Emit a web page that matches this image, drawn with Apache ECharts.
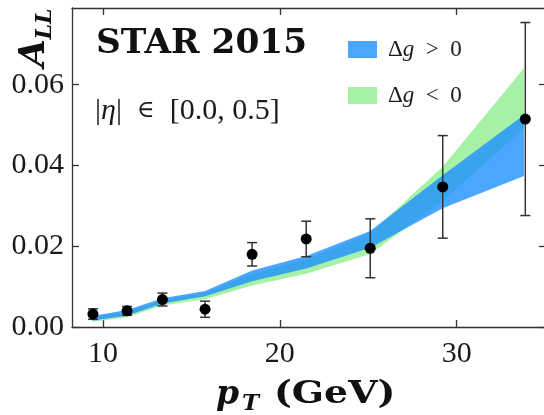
<!DOCTYPE html>
<html><head><meta charset="utf-8">
<script src="https://cdn.jsdelivr.net/npm/echarts@6/dist/echarts.min.js"></script>
<style>html,body{margin:0;padding:0;background:#fff}#c{width:544px;height:415px}</style>
</head><body><div id="c"></div>
<script>
// data points (STAR 2015, |eta| in [0,0.5])
const ptX   = [9.43, 11.36, 13.36, 15.77, 18.43, 21.49, 25.11, 29.21, 33.88];
const ptY   = [0.0032, 0.0040, 0.0068, 0.0044, 0.0180, 0.0218, 0.0195, 0.0347, 0.0515];
const ptErr = [0.0013, 0.0011, 0.0016, 0.0020, 0.0029, 0.0044, 0.0073, 0.0127, 0.0239];
// theory bands
const bandX   = [9.40, 11.36, 13.36, 15.77, 18.43, 21.49, 25.11, 29.21, 33.80];
const blueLo  = [0.0016, 0.0028, 0.0058, 0.0076, 0.0113, 0.0145, 0.0196, 0.0294, 0.0374];
const blueHi  = [0.0027, 0.0042, 0.0071, 0.0089, 0.0140, 0.0176, 0.0238, 0.0376, 0.0525];
const greenLo = [0.0013, 0.0024, 0.0053, 0.0069, 0.0103, 0.0132, 0.0181, 0.0312, 0.0492];
const greenHi = [0.0024, 0.0038, 0.0067, 0.0085, 0.0132, 0.0168, 0.0232, 0.0397, 0.0641];
// ticks
const xTicks = [10, 20, 30];
const yTicks = [0, 0.02, 0.04, 0.06];
const legendNames = ['Δg > 0', 'Δg < 0'];

const BLUE = 'rgba(30,144,255,0.8)';
const GREEN = 'rgba(144,238,144,0.8)';
const AX = '#333';
const serif = 'Liberation Serif';

function band(name, lo, hi, color, z) {
  return {
    type: 'custom', name: name, z: z,
    itemStyle: { color: color },
    data: bandX.map((x, i) => [x, lo[i], hi[i]]),
    encode: { x: 0, y: [1, 2] },
    renderItem: function (params, api) {
      if (params.dataIndex !== 0) return null;
      const up = [], dn = [];
      for (let i = 0; i < bandX.length; i++) {
        up.push(api.coord([bandX[i], hi[i]]));
        dn.push(api.coord([bandX[i], lo[i]]));
      }
      return { type: 'polygon', shape: { points: up.concat(dn.reverse()) }, style: { fill: color } };
    }
  };
}

function axisCommon(extra) {
  return Object.assign({
    type: 'value', splitLine: { show: false },
    axisLine: { show: true, onZero: false, lineStyle: { color: AX, width: 1.3 } },
    axisTick: { show: true, inside: true, length: 7, lineStyle: { color: AX, width: 1.3 } }
  }, extra);
}

const chart = echarts.init(document.getElementById('c'), null, { renderer: 'canvas' });
chart.setOption({
  animation: false,
  backgroundColor: '#fff',
  grid: { left: 72, top: 8, right: -2, bottom: 88, containLabel: false, outerBoundsMode: 'none' },
  xAxis: [
    axisCommon({ min: 8.245, max: 35.05, position: 'bottom',
      axisTick: { show: true, inside: true, length: 7, customValues: xTicks, lineStyle: { color: AX, width: 1.3 } },
      axisLabel: { customValues: xTicks, margin: 12, fontFamily: serif, fontSize: 30, color: '#1a1a1a' } }),
    axisCommon({ min: 8.245, max: 35.05, position: 'top',
      axisTick: { show: true, inside: true, length: 7, customValues: xTicks, lineStyle: { color: AX, width: 1.3 } },
      axisLabel: { show: false } })
  ],
  yAxis: [
    axisCommon({ min: 0, max: 0.079, position: 'left',
      axisTick: { show: true, inside: true, length: 7, customValues: yTicks, lineStyle: { color: AX, width: 1.3 } },
      axisLabel: { customValues: yTicks, margin: 8, fontFamily: serif, fontSize: 30, color: '#1a1a1a',
        formatter: v => v.toFixed(2) } }),
    axisCommon({ min: 0, max: 0.079, position: 'right',
      axisTick: { show: true, inside: true, length: 7, customValues: yTicks, lineStyle: { color: AX, width: 1.3 } },
      axisLabel: { show: false } })
  ],
  legend: {
    left: 348, top: 38, padding: 0, orient: 'vertical', itemWidth: 29, itemHeight: 17, itemGap: 23,
    selectedMode: false,
    data: legendNames.map(n => ({ name: n, icon: 'rect' })),
    formatter: function (n) { return '{t|Δ}{i|g}{t|\u2002' + n.slice(3, 4) + '\u20020}'; },
    textStyle: {
      padding: [0, 0, 0, 6],
      rich: {
        t: { fontFamily: serif, fontSize: 23, color: '#1a1a1a' },
        i: { fontFamily: serif, fontSize: 23, fontStyle: 'italic', color: '#1a1a1a' }
      }
    }
  },
  graphic: [
    { type: 'text', x: 96, y: 44, scaleX: 1.04, style: { text: 'STAR 2015', fontFamily: 'DejaVu Serif', fontWeight: 'bold', fontSize: 33, fill: '#111', verticalAlign: 'middle' } },
    { type: 'text', x: 95, y: 111, style: {
      text: '{r||}{i|η}{r||\u2002}{e|∈}{r|\u2002[0.0, 0.5]}', verticalAlign: 'middle',
      rich: { r: { fontFamily: serif, fontSize: 30, fill: '#1a1a1a' },
              e: { fontFamily: 'DejaVu Serif', fontSize: 24, fill: '#1a1a1a' },
              i: { fontFamily: serif, fontSize: 30, fontStyle: 'italic', fill: '#1a1a1a' } } } },
    { type: 'text', x: 35, y: 53, rotation: Math.PI / 2, style: { text: 'A', fontFamily: 'DejaVu Serif', fontWeight: 'bold', fontStyle: 'italic', fontSize: 36, fill: '#111', align: 'center', verticalAlign: 'middle' } },
    { type: 'text', x: 45, y: 24, rotation: Math.PI / 2, style: { text: 'LL', fontFamily: 'DejaVu Serif', fontWeight: 'bold', fontStyle: 'italic', fontSize: 22, fill: '#111', align: 'center', verticalAlign: 'middle' } },
    { type: 'text', x: 216, y: 395, style: { text: 'p', fontFamily: 'DejaVu Serif', fontWeight: 'bold', fontStyle: 'italic', fontSize: 33, fill: '#111', verticalAlign: 'middle' } },
    { type: 'text', x: 242, y: 404, style: { text: 'T', fontFamily: 'DejaVu Serif', fontWeight: 'bold', fontStyle: 'italic', fontSize: 23, fill: '#111', verticalAlign: 'middle' } },
    { type: 'text', x: 274, y: 395, scaleX: 1.18, style: { text: '(GeV)', fontFamily: 'DejaVu Serif', fontWeight: 'bold', fontSize: 32, fill: '#111', verticalAlign: 'middle' } }
  ],
  series: [
    band(legendNames[1], greenLo, greenHi, GREEN, 1),
    band(legendNames[0], blueLo, blueHi, BLUE, 2),
    {
      type: 'custom', name: 'err', z: 5,
      data: ptX.map((x, i) => [x, ptY[i] - ptErr[i], ptY[i] + ptErr[i]]),
      encode: { x: 0, y: [1, 2] },
      renderItem: function (params, api) {
        const x = api.value(0);
        const a = api.coord([x, api.value(1)]), b = api.coord([x, api.value(2)]);
        const w = 5, st = { stroke: '#333', lineWidth: 1.5 };
        return { type: 'group', children: [
          { type: 'line', shape: { x1: a[0], y1: a[1], x2: b[0], y2: b[1] }, style: st },
          { type: 'line', shape: { x1: a[0] - w, y1: a[1], x2: a[0] + w, y2: a[1] }, style: st },
          { type: 'line', shape: { x1: b[0] - w, y1: b[1], x2: b[0] + w, y2: b[1] }, style: st }
        ] };
      }
    },
    {
      type: 'scatter', name: 'data', z: 10, symbol: 'circle', symbolSize: 11,
      itemStyle: { color: '#000', opacity: 1 },
      data: ptX.map((x, i) => [x, ptY[i]])
    }
  ]
});
</script>
</body></html>
